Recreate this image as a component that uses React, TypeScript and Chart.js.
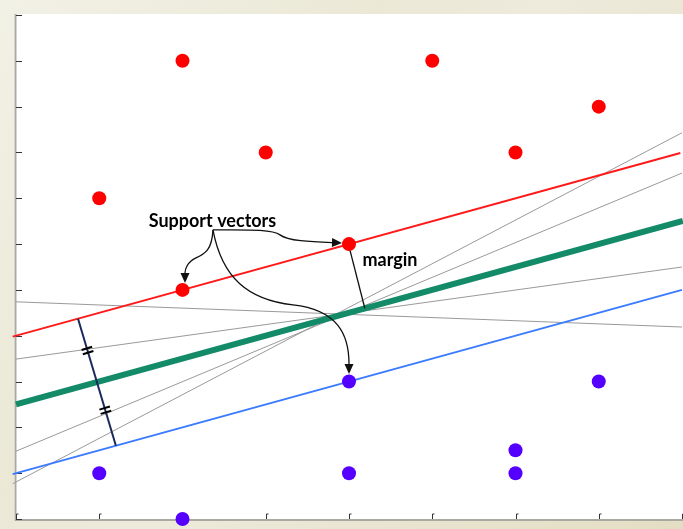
import { useEffect, useRef } from "react";
import { Chart, registerables } from "chart.js";
Chart.register(...registerables);

// class points
const redX = [2, 5, 7, 3, 6, 1, 4, 2];
const redY = [10, 10, 9, 8, 8, 7, 6, 5];
const blueX = [4, 7, 6, 1, 4, 6, 2];
const blueY = [3, 3, 1.5, 1, 1, 1, 0];

// margin / boundary lines
const redLineX = [-0.04, 7.98];
const redLineY = [3.98, 7.99];
const blueLineX = [-0.04, 8];
const blueLineY = [0.98, 5.0];
const greenLineX = [0, 8.01];
const greenLineY = [2.5, 6.505];

// other candidate separators (gray)
const grayAX = [0, 8];
const grayAY = [4.74, 4.19];
const grayBX = [0, 8];
const grayBY = [3.49, 5.5];
const grayCX = [0, 8];
const grayCY = [1.48, 7.55];
const grayDX = [-0.04, 8];
const grayDY = [0.77, 8.43];

// margin bar and margin pointer
const marginBarX = [0.745, 1.2];
const marginBarY = [4.37, 1.6];
const marginLineX = [4, 4.19];
const marginLineY = [5.95, 4.6];
const hashT = [0.25, 0.72];

// ticks
const xTicks = [0, 1, 2, 3, 4, 5, 6, 7, 8];
const yTicks = [0, 1, 2, 3, 4, 5, 6, 7, 8, 9, 10, 11];

// labels (x = centre, y = baseline)
const labelTexts = ["Support vectors", "margin"];
const labelX = [2.36, 4.492];
const labelY = [6.376, 5.524];

// arrows: start, c1, c2, p, c1, c2, end (data coords)
const arrow1X = [2.366, 2.751, 3.075, 3.171, 3.267, 3.532, 3.916];
const arrow1Y = [6.31, 6.31, 6.332, 6.201, 6.07, 6.048, 6.026];
const arrow2X = [2.366, 2.354, 2.27, 2.162, 2.054, 2.03, 2.03];
const arrow2Y = [6.31, 5.873, 5.786, 5.699, 5.611, 5.437, 5.153];
const arrow3X = [2.366, 2.474, 2.787, 3.327, 3.868, 4.0, 4.0];
const arrow3Y = [6.31, 5.262, 4.782, 4.672, 4.563, 4.017, 3.166];

const pts = (xs: number[], ys: number[]) => xs.map((x, i) => ({ x, y: ys[i] }));

const lineDs = (label: string, xs: number[], ys: number[], color: string, width: number, order: number) => ({
  label,
  data: pts(xs, ys),
  showLine: true,
  borderColor: color,
  backgroundColor: color,
  borderWidth: width,
  pointRadius: 0,
  fill: false,
  clip: false as any,
  order,
});

const framePlugin = {
  id: "frame",
  beforeDraw(chart: any) {
    const { ctx, width, height } = chart;
    const a = chart.chartArea;
    ctx.save();
    const g = ctx.createLinearGradient(0, 0, width, height);
    g.addColorStop(0, "#f2f1e6");
    g.addColorStop(0.35, "#ebe8d6");
    g.addColorStop(0.5, "#eeeadc");
    g.addColorStop(1, "#e3dec3");
    ctx.fillStyle = g;
    ctx.fillRect(0, 0, width, height);
    ctx.fillStyle = "#ffffff";
    ctx.fillRect(a.left - 2, a.top - 1, width - a.left + 2, a.bottom - a.top + 3);
    ctx.restore();
  },
  beforeDatasetsDraw(chart: any) {
    const { ctx, width } = chart;
    const a = chart.chartArea;
    const xs = chart.scales.x;
    const ys = chart.scales.y;
    ctx.save();
    // axes
    ctx.strokeStyle = "#a9a9a2";
    ctx.lineWidth = 2;
    ctx.beginPath();
    ctx.moveTo(a.left - 0.5, a.top - 1);
    ctx.lineTo(a.left - 0.5, a.bottom + 1);
    ctx.lineTo(width, a.bottom + 1);
    ctx.stroke();
    // ticks
    ctx.strokeStyle = "#333333";
    ctx.lineWidth = 1;
    yTicks.forEach((v) => {
      const py = Math.round(ys.getPixelForValue(v)) + 0.5;
      ctx.beginPath();
      ctx.moveTo(a.left, py);
      ctx.lineTo(a.left + 6, py);
      ctx.stroke();
    });
    xTicks.forEach((v) => {
      const px = Math.round(xs.getPixelForValue(v)) + 0.5;
      ctx.beginPath();
      ctx.moveTo(px, a.bottom);
      ctx.lineTo(px, a.bottom - 5);
      ctx.lineTo(px + 2, a.bottom - 5);
      ctx.stroke();
    });
    ctx.restore();
  },
  afterDraw(chart: any) {
    const { ctx } = chart;
    const xs = chart.scales.x;
    const ys = chart.scales.y;
    const P = (x: number, y: number) => [xs.getPixelForValue(x), ys.getPixelForValue(y)];
    ctx.save();
    // hash marks on margin bar
    const [bx0, by0] = P(marginBarX[0], marginBarY[0]);
    const [bx1, by1] = P(marginBarX[1], marginBarY[1]);
    const len = Math.hypot(bx1 - bx0, by1 - by0);
    const ux = (bx1 - bx0) / len;
    const uy = (by1 - by0) / len;
    const nx = uy;
    const ny = -ux;
    ctx.strokeStyle = "#000000";
    ctx.lineWidth = 2;
    hashT.forEach((t) => {
      const cx = bx0 + (bx1 - bx0) * t;
      const cy = by0 + (by1 - by0) * t;
      [-2.2, 2.2].forEach((off) => {
        const mx = cx + ux * off;
        const my = cy + uy * off;
        ctx.beginPath();
        ctx.moveTo(mx - nx * 5.5, my - ny * 5.5);
        ctx.lineTo(mx + nx * 5.5, my + ny * 5.5);
        ctx.stroke();
      });
    });
    // arrows
    const drawArrow = (ax: number[], ay: number[]) => {
      const p = ax.map((x, i) => P(x, ay[i]));
      const end = p[6];
      const c = p[5];
      const dl = Math.hypot(end[0] - c[0], end[1] - c[1]);
      const dx = (end[0] - c[0]) / dl;
      const dy = (end[1] - c[1]) / dl;
      const hl = 10;
      const hw = 4.5;
      const base = [end[0] - dx * hl, end[1] - dy * hl];
      ctx.strokeStyle = "#111111";
      ctx.lineWidth = 1.3;
      ctx.beginPath();
      ctx.moveTo(p[0][0], p[0][1]);
      ctx.bezierCurveTo(p[1][0], p[1][1], p[2][0], p[2][1], p[3][0], p[3][1]);
      ctx.bezierCurveTo(p[4][0], p[4][1], p[5][0], p[5][1], base[0], base[1]);
      ctx.stroke();
      ctx.fillStyle = "#111111";
      ctx.beginPath();
      ctx.moveTo(end[0], end[1]);
      ctx.lineTo(base[0] - dy * hw, base[1] + dx * hw);
      ctx.lineTo(base[0] + dy * hw, base[1] - dx * hw);
      ctx.closePath();
      ctx.fill();
    };
    drawArrow(arrow1X, arrow1Y);
    drawArrow(arrow2X, arrow2Y);
    drawArrow(arrow3X, arrow3Y);
    // labels
    ctx.fillStyle = "#000000";
    ctx.font = "bold 18px Lato, 'Open Sans', sans-serif";
    ctx.textAlign = "center";
    ctx.textBaseline = "alphabetic";
    labelTexts.forEach((t, i) => {
      const [lx, ly] = P(labelX[i], labelY[i]);
      ctx.fillText(t, lx, ly);
    });
    ctx.restore();
  },
};

export default function App() {
  const ref = useRef<HTMLCanvasElement>(null);
  useEffect(() => {
    if (!ref.current) return;
    const chart = new Chart(ref.current, {
      type: "scatter",
      data: {
        datasets: [
          { label: "positive", data: pts(redX, redY), backgroundColor: "#ff0000", borderWidth: 0, pointRadius: 7, clip: false as any, order: 0 },
          { label: "negative", data: pts(blueX, blueY), backgroundColor: "#5500ff", borderWidth: 0, pointRadius: 7, clip: false as any, order: 0 },
          lineDs("margin line", marginLineX, marginLineY, "#111111", 1.3, 1),
          lineDs("margin bar", marginBarX, marginBarY, "#1b2a5c", 2, 1),
          lineDs("blue margin", blueLineX, blueLineY, "#3a7bff", 2, 2),
          lineDs("red margin", redLineX, redLineY, "#ff1a1a", 2, 2),
          lineDs("boundary", greenLineX, greenLineY, "#138a68", 6, 3),
          lineDs("gray A", grayAX, grayAY, "#9a9a9a", 1, 4),
          lineDs("gray B", grayBX, grayBY, "#9a9a9a", 1, 4),
          lineDs("gray C", grayCX, grayCY, "#9a9a9a", 1, 4),
          lineDs("gray D", grayDX, grayDY, "#9a9a9a", 1, 4),
        ],
      },
      options: {
        responsive: false,
        maintainAspectRatio: false,
        animation: false,
        events: [],
        layout: { autoPadding: false, padding: { left: 16, top: 15, right: 1, bottom: 10 } },
        scales: {
          x: { type: "linear", min: 0, max: 8, display: false },
          y: { type: "linear", min: 0, max: 11, display: false },
        },
        plugins: { legend: { display: false }, tooltip: { enabled: false } },
      },
      plugins: [framePlugin],
    });
    return () => chart.destroy();
  }, []);
  return (
    <div style={{ position: "fixed", left: 0, top: 0, width: 683, height: 529 }}>
      <canvas ref={ref} width={683} height={529} style={{ display: "block" }} />
    </div>
  );
}
